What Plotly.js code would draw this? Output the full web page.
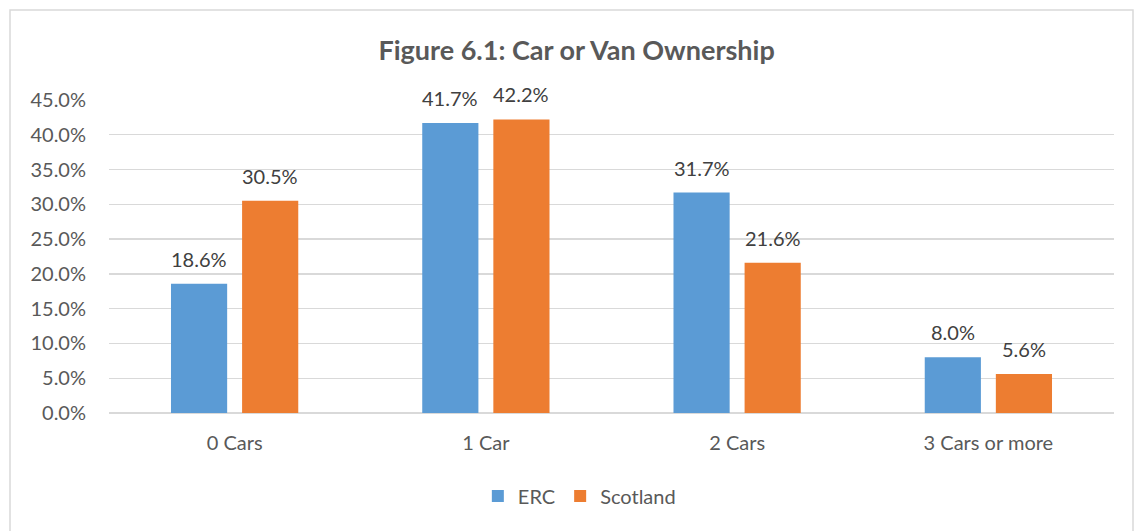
<!DOCTYPE html>
<html><head><meta charset="utf-8">
<script src="https://cdn.plot.ly/plotly-3.0.1.min.js"></script>
<style>html,body{margin:0;padding:0;background:#fff}#chart{width:1135px;height:531px}</style>
</head><body><div id="chart"></div>
<script>
const categories = ["0 Cars", "1 Car", "2 Cars", "3 Cars or more"];
const erc = [0.186, 0.417, 0.317, 0.080];
const scotland = [0.305, 0.422, 0.216, 0.056];
const seriesNames = ["ERC", "Scotland"];
const titleText = "Figure 6.1: Car or Van Ownership";

const FONT = "Lato, 'Open Sans', sans-serif";
const colors = ["#5b9bd5", "#ed7d31"];
const series = [erc, scotland];
const data = series.map((y, i) => ({
  type: "bar", name: seriesNames[i], x: categories, y: y,
  marker: {color: colors[i]}, hoverinfo: "skip"
}));
const annotations = [];
series.forEach((ys, i) => {
  ys.forEach((v, j) => {
    annotations.push({
      x: categories[j], y: v, xref: "x", yref: "y",
      xshift: (i === 0 ? -35.5 : 35.5), yshift: 11,
      yanchor: "bottom", xanchor: "center", showarrow: false,
      text: (v * 100).toFixed(1) + "%",
      font: {family: FONT, size: 20, color: "#404040"}
    });
  });
});
const layout = {
  width: 1135, height: 531,
  margin: {l: 109, r: 21, t: 100, b: 118},
  paper_bgcolor: "#fff", plot_bgcolor: "#fff",
  font: {family: FONT, color: "#595959", size: 20},
  title: {text: "<b>" + titleText + "</b>", x: 0.508, xref: "container", xanchor: "center", y: 0.905, yref: "container", yanchor: "middle", font: {size: 27, color: "#595959", family: FONT}},
  barmode: "group", bargap: 0.434, bargroupgap: 0.21,
  xaxis: {tickfont: {size: 20, color: "#595959"}, showline: false, ticks: "", ticklabelstandoff: 16, fixedrange: true},
  yaxis: {range: [0, 0.45], dtick: 0.05, tickformat: ".1%", gridcolor: "#d9d9d9", gridwidth: 1.3,
          zeroline: true, zerolinecolor: "#d9d9d9", zerolinewidth: 1.3, showline: false, ticks: "", ticklabelstandoff: 22,
          tickfont: {size: 20, color: "#595959"}},
  legend: {orientation: "h", x: 0.468, xanchor: "center", y: -0.265, yanchor: "middle", font: {size: 20, color: "#595959"}, itemclick: false},
  showlegend: true,
  annotations: annotations,
  shapes: [{type: "rect", xref: "paper", yref: "paper", x0: -0.0985, x1: 1.0189, y0: -0.45, y1: 1.2875,
            line: {color: "#d9d9d9", width: 1.5}, fillcolor: "rgba(0,0,0,0)", layer: "below"}]
};
Plotly.newPlot("chart", data, layout, {displayModeBar: false, staticPlot: true});
</script></body></html>
